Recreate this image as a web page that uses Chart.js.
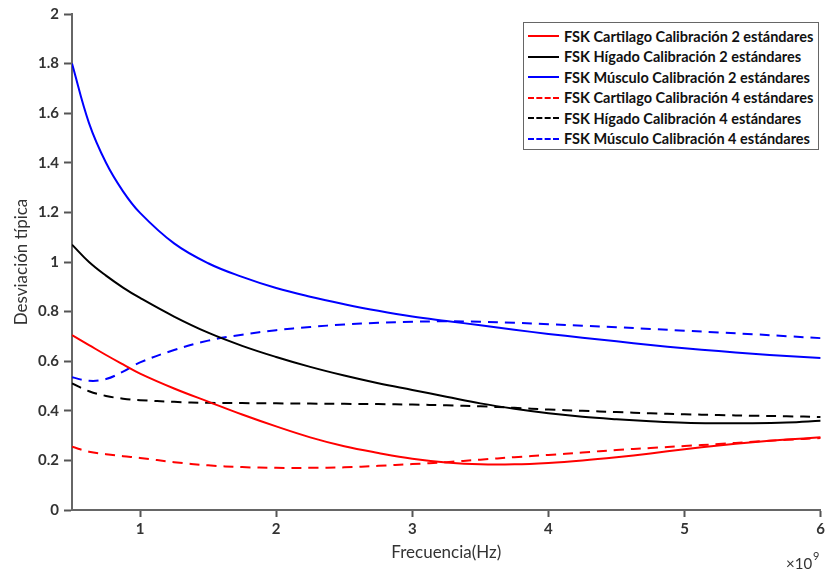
<!DOCTYPE html>
<html>
<head>
<meta charset="utf-8">
<script src="https://cdn.jsdelivr.net/npm/chart.js@4.4.1/dist/chart.umd.min.js"></script>
<style>
  body { margin: 0; background: #fff; }
  #wrap { position: relative; width: 828px; height: 571px; }
  #legend {
    position: absolute; left: 523px; top: 22px; width: 296px; height: 128px;
    border: 1.5px solid #666; background: #fff; box-sizing: border-box;
    padding: 3px 0 0 4px; font: bold 14.5px Lato, sans-serif; color: #111;
  }
  #legend .row { display: flex; align-items: center; height: 20.5px; white-space: nowrap; }
  #legend .sample { width: 31px; height: 0; margin-right: 5px; border-top-width: 2px; }
</style>
</head>
<body>
<div id="wrap">
  <canvas id="myChart" width="828" height="571"></canvas>
  <div id="legend"></div>
</div>
<script>
// frequency in units of 1e9 Hz
const freq = [0.5, 0.625, 0.75, 0.875, 1, 1.25, 1.5, 1.75, 2, 2.25, 2.5, 2.75, 3, 3.25, 3.5, 3.75, 4, 4.25, 4.5, 4.75, 5, 5.25, 5.5, 5.75, 6]

const cartilago2 = [0.705, 0.665, 0.625, 0.587, 0.55, 0.49, 0.437, 0.385, 0.337, 0.293, 0.257, 0.23, 0.207, 0.192, 0.184, 0.184, 0.19, 0.2, 0.213, 0.228, 0.245, 0.26, 0.273, 0.284, 0.293]
const higado2 = [1.07, 1.0, 0.945, 0.897, 0.855, 0.78, 0.715, 0.662, 0.617, 0.577, 0.542, 0.511, 0.484, 0.457, 0.43, 0.408, 0.39, 0.376, 0.366, 0.358, 0.352, 0.35, 0.35, 0.353, 0.36]
const musculo2 = [1.80, 1.56, 1.40, 1.285, 1.198, 1.075, 0.995, 0.94, 0.895, 0.86, 0.83, 0.803, 0.78, 0.762, 0.745, 0.727, 0.71, 0.695, 0.68, 0.665, 0.652, 0.641, 0.63, 0.621, 0.613]
const cartilago4 = [0.255, 0.235, 0.225, 0.217, 0.21, 0.193, 0.18, 0.173, 0.17, 0.17, 0.172, 0.178, 0.185, 0.193, 0.203, 0.213, 0.222, 0.232, 0.242, 0.25, 0.258, 0.266, 0.275, 0.283, 0.29]
const higado4 = [0.51, 0.479, 0.46, 0.449, 0.443, 0.436, 0.432, 0.431, 0.43, 0.429, 0.428, 0.427, 0.425, 0.422, 0.418, 0.412, 0.405, 0.4, 0.395, 0.39, 0.386, 0.383, 0.38, 0.378, 0.375]
const musculo4 = [0.535, 0.521, 0.528, 0.558, 0.595, 0.645, 0.683, 0.707, 0.725, 0.738, 0.748, 0.755, 0.759, 0.761, 0.759, 0.755, 0.749, 0.743, 0.737, 0.73, 0.723, 0.716, 0.709, 0.701, 0.693]

const names = [
  'FSK Cartilago Calibración 2 estándares',
  'FSK Hígado Calibración 2 estándares',
  'FSK Músculo Calibración 2 estándares',
  'FSK Cartilago Calibración 4 estándares',
  'FSK Hígado Calibración 4 estándares',
  'FSK Músculo Calibración 4 estándares'
]
const series = [cartilago2, higado2, musculo2, cartilago4, higado4, musculo4]
const colors = ['#ff0000', '#000000', '#0000ff', '#ff0000', '#000000', '#0000ff']
const dashed = [false, false, false, true, true, true]

const font = 'Lato, sans-serif'

// "x10^9" under the right end of the x axis
const expLabel = {
  id: 'expLabel',
  afterDraw(chart) {
    const c = chart.ctx
    c.save()
    c.fillStyle = '#333'
    c.textBaseline = 'alphabetic'
    c.font = '15px ' + font
    c.fillText('×10', 786, 569)
    c.font = '11px ' + font
    c.fillText('9', 813, 560)
    c.restore()
  }
}

const ctx = document.getElementById('myChart')
new Chart(ctx, {
  type: 'line',
  data: {
    datasets: series.map((s, i) => ({
      label: names[i],
      data: s.map((v, j) => ({ x: freq[j], y: v })),
      borderColor: colors[i],
      borderWidth: 2,
      borderDash: dashed[i] ? [10, 7] : [],
      pointRadius: 0,
      tension: 0.4,
      fill: false
    }))
  },
  options: {
    responsive: false,
    animation: false,
    layout: { padding: { top: 14, right: 5, left: 0, bottom: 0 } },
    plugins: { legend: { display: false }, tooltip: { enabled: false } },
    scales: {
      x: {
        type: 'linear', min: 0.5, max: 6,
        afterBuildTicks: s => { s.ticks = s.ticks.filter(t => Number.isInteger(t.value)) },
        afterFit: s => { s.height = 61 },
        ticks: { stepSize: 1, color: '#333', font: { family: font, size: 15, weight: 'bold' }, padding: 3 },
        grid: { drawOnChartArea: false, drawTicks: true, tickLength: 7, tickWidth: 2, color: '#555' },
        border: { display: true, color: '#666', width: 2 },
        title: { display: true, text: 'Frecuencia(Hz)', color: '#333', font: { family: font, size: 17 }, padding: { top: 2, bottom: 8 } }
      },
      y: {
        min: 0, max: 2,
        afterFit: s => { s.width = 72 },
        ticks: { stepSize: 0.2, color: '#333', font: { family: font, size: 15, weight: 'bold' }, padding: 5, callback: v => +v.toFixed(1) },
        grid: { drawOnChartArea: false, drawTicks: true, tickLength: 8, tickWidth: 2, color: '#555' },
        border: { display: true, color: '#666', width: 2 },
        title: { display: true, text: 'Desviación típica', color: '#333', font: { family: font, size: 17 }, padding: { top: 11, bottom: 0 } }
      }
    }
  },
  plugins: [expLabel]
})

// legend box in the top right corner
const leg = document.getElementById('legend')
names.forEach((n, i) => {
  const row = document.createElement('div')
  row.className = 'row'
  const sample = document.createElement('span')
  sample.className = 'sample'
  sample.style.borderTopStyle = dashed[i] ? 'dashed' : 'solid'
  sample.style.borderTopColor = colors[i]
  row.appendChild(sample)
  row.appendChild(document.createTextNode(n))
  leg.appendChild(row)
})
</script>
</body>
</html>
